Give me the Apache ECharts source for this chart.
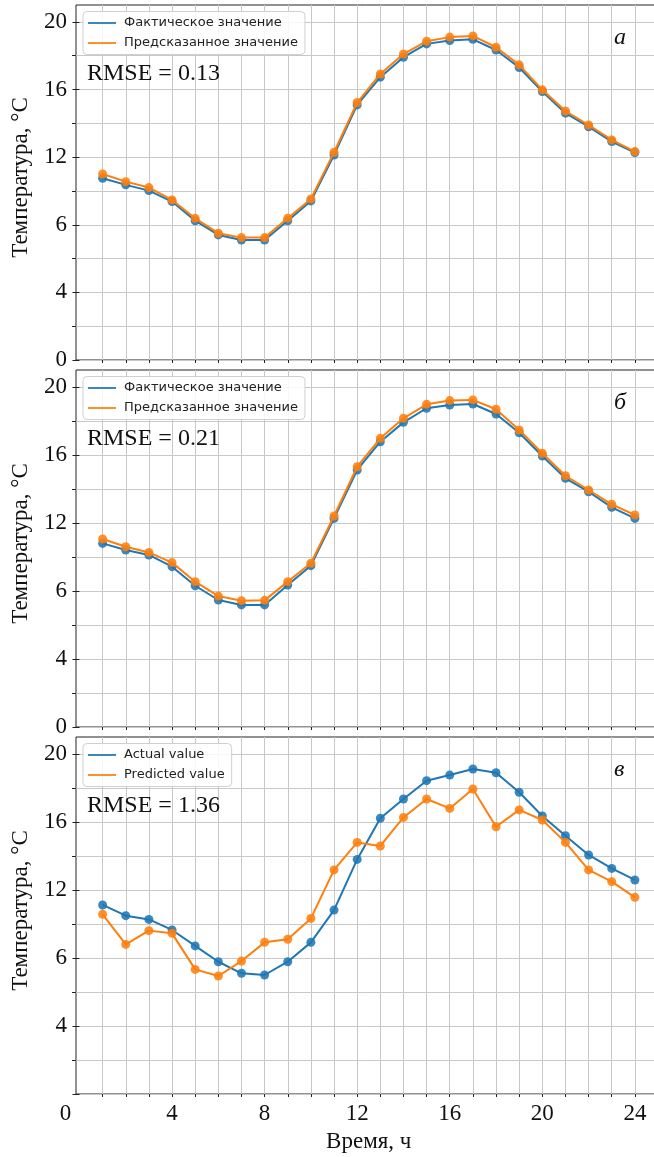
<!DOCTYPE html>
<html>
<head>
<meta charset="utf-8">
<script src="https://cdn.jsdelivr.net/npm/echarts@6/dist/echarts.min.js"></script>
<style>
html,body{margin:0;padding:0;background:#fff;}
#chart{width:654px;height:1157px;}
</style>
</head>
<body>
<div id="chart"></div>
<script>
// ---- data ----
const hours = [1,2,3,4,5,6,7,8,9,10,11,12,13,14,15,16,17,18,19,20,21,22,23,24];
const xLabelValues = [0,4,8,12,16,20,24];
const yMajorValues = [0,4,8,12,16,20];
const yMinorValues = [2,6,10,14,18];
const yTickLabels = ['0','4','6','12','16','20'];

const seriesNamesRu = ['Фактическое значение','Предсказанное значение'];
const seriesNamesEn = ['Actual value','Predicted value'];
const rmseTexts = ['RMSE = 0.13','RMSE = 0.21','RMSE = 1.36'];
const panelLetters = ['а','б','в'];
const yTitle = 'Температура, °C';
const xTitle = 'Время, ч';

const p1Actual = [10.75,10.36,10.02,9.37,8.24,7.40,7.10,7.10,8.24,9.41,12.13,15.09,16.73,17.91,18.70,18.90,18.97,18.34,17.30,15.88,14.60,13.80,12.92,12.27];
const p1Pred   = [11.00,10.55,10.20,9.47,8.38,7.50,7.24,7.24,8.38,9.53,12.29,15.23,16.92,18.10,18.86,19.10,19.17,18.50,17.46,15.98,14.73,13.90,13.02,12.33];
const p2Actual = [10.80,10.41,10.12,9.43,8.31,7.47,7.18,7.18,8.35,9.49,12.27,15.12,16.78,17.92,18.75,18.94,19.00,18.41,17.31,15.94,14.63,13.84,12.92,12.27];
const p2Pred   = [11.06,10.60,10.27,9.67,8.55,7.70,7.43,7.45,8.55,9.63,12.41,15.31,16.98,18.16,18.98,19.20,19.24,18.69,17.47,16.10,14.78,13.94,13.10,12.47];
const p3Actual = [11.12,10.49,10.27,9.65,8.71,7.78,7.10,7.00,7.78,8.92,10.82,13.80,16.22,17.35,18.43,18.76,19.12,18.90,17.75,16.35,15.19,14.06,13.27,12.59];
const p3Pred   = [10.57,8.80,9.61,9.45,7.33,6.94,7.82,8.92,9.10,10.33,13.18,14.80,14.59,16.27,17.35,16.80,17.94,15.72,16.71,16.12,14.80,13.18,12.49,11.57];

// ---- layout / style ----
const BLUE = '#1f77b4', ORANGE = '#ff7f0e';
const GRID_C = '#c8c8c8', AX_C = '#222';
const SERIF = '"Liberation Serif","Times New Roman",serif';
const SANS = '"DejaVu Sans",sans-serif';
const gridTops = [5, 370, 737];
const gridHeights = [355, 357, 357];
const panels = [
  {actual:p1Actual, pred:p1Pred, names:seriesNamesRu, yLabels:yMajorValues},
  {actual:p2Actual, pred:p2Pred, names:seriesNamesRu, yLabels:yMajorValues},
  {actual:p3Actual, pred:p3Pred, names:seriesNamesEn, yLabels:yMajorValues.slice(1)}
];

const grid=[], xAxis=[], yAxis=[], series=[], legend=[], title=[];
panels.forEach((p,i)=>{
  grid.push({left:76, width:585.5, top:gridTops[i], height:gridHeights[i], containLabel:false, outerBoundsMode:'none',
    show:true, borderColor:AX_C, borderWidth:1, backgroundColor:'transparent'});
  const last = i===2;
  xAxis.push({
    gridIndex:i, type:'value', min:-0.15, max:25.15,
    axisLine:{show:false, onZero:false},
    axisTick:{show:true, customValues:hours, length:3, lineStyle:{color:AX_C, width:1}},
    axisLabel:{show:last, customValues:xLabelValues, margin:8, color:'#111', fontFamily:SERIF, fontSize:23,
      formatter:(v)=> v===0 ? '{z|0}' : String(v),
      rich:{z:{padding:[0,28,0,0], fontFamily:SERIF, fontSize:23, color:'#111'}}},
    splitLine:{show:true, lineStyle:{color:GRID_C, width:1}},
    name: last ? xTitle : '', nameLocation:'middle', nameGap:36,
    nameTextStyle:{fontFamily:SERIF, fontSize:23, color:'#111'}
  });
  yAxis.push({
    gridIndex:i, type:'value', min:0, max:21, position:'left', offset:0,
    axisLine:{show:false},
    axisTick:{show:true, customValues:yMajorValues, length:7, lineStyle:{color:AX_C, width:1}},
    axisLabel:{show:true, customValues:p.yLabels, margin:9, color:'#111', fontFamily:SERIF, fontSize:23,
      formatter:(v)=> yTickLabels[yMajorValues.indexOf(v)]},
    splitLine:{show:true, lineStyle:{color:GRID_C, width:1}},
    name:yTitle, nameLocation:'middle', nameRotate:90, nameGap:44,
    nameTextStyle:{fontFamily:SERIF, fontSize:23, color:'#111', padding:[0,0,0,10]}
  });
  yAxis.push({
    gridIndex:i, type:'value', min:0, max:21, position:'left', offset:0,
    axisLine:{show:false},
    axisTick:{show:true, customValues:yMinorValues, length:4, lineStyle:{color:AX_C, width:1}},
    axisLabel:{show:false},
    splitLine:{show:true, lineStyle:{color:GRID_C, width:1}}
  });
  const mk = (name, vals, color, z) => ({
    name, type:'line', xAxisIndex:i, yAxisIndex:2*i,
    data: hours.map((h,k)=>[h, vals[k]]),
    symbol:'circle', symbolSize:9, showSymbol:true,
    lineStyle:{color, width:2},
    itemStyle:{color, opacity:0.88},
    z, animation:false, silent:true
  });
  series.push(mk(p.names[0], p.actual, BLUE, 3));
  series.push(mk(p.names[1], p.pred, ORANGE, 4));
  legend.push({
    data:p.names, orient:'vertical', left:83, top:gridTops[i]+6.5,
    icon:'rect', itemWidth:28, itemHeight:2, itemGap:5,
    padding:[4,7,4,5], backgroundColor:'rgba(255,255,255,0.85)',
    borderColor:'#d0d0d0', borderWidth:1, borderRadius:4,
    textStyle:{fontFamily:SANS, fontSize:13, color:'#222', lineHeight:15, padding:[0,0,0,3]},
    selectedMode:false
  });
  title.push({text:rmseTexts[i], left:87, top:gridTops[i]+56.3, padding:0,
    textStyle:{fontFamily:SERIF, fontSize:24, fontWeight:'normal', color:'#111'}});
  title.push({text:panelLetters[i], left:614, top:gridTops[i]+21, padding:0,
    textStyle:{fontFamily:SERIF, fontSize:24, fontStyle:'italic', fontWeight:'normal', color:'#111'}});
});

const chart = echarts.init(document.getElementById('chart'), null, {renderer:'canvas'});
chart.setOption({animation:false, backgroundColor:'#fff', grid, xAxis, yAxis, series, legend, title});
</script>
</body>
</html>
